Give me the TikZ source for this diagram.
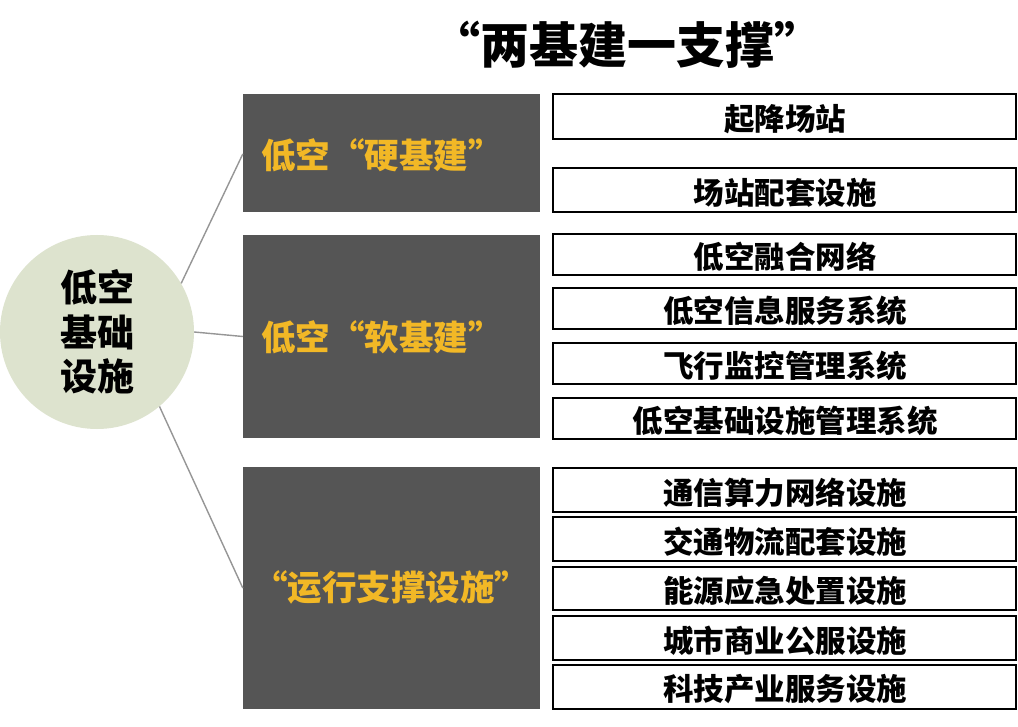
\documentclass[tikz,border=0pt]{standalone}
\usepackage{fontspec}
\setmainfont{Noto Sans CJK SC}
\begin{document}
\begin{tikzpicture}[x=1pt,y=-1pt,
  itembox/.style={draw=black,line width=1.2pt,fill=white},
  yel/.style={text=ytext,font=\bfseries\fontsize{34.5}{38}\selectfont},
  itemtxt/.style={font=\bfseries\fontsize{30.5}{33}\selectfont,text=black},
  conn/.style={draw=linegray,line width=1.4pt}]
\definecolor{boxgray}{RGB}{85,85,85}
\definecolor{ytext}{RGB}{242,184,38}
\definecolor{sage}{RGB}{221,227,206}
\definecolor{linegray}{RGB}{150,150,150}
\useasboundingbox (0,0) rectangle (1018,727);
\fill[white] (0,0) rectangle (1018,727);
% title
\node[font=\bfseries\fontsize{49}{52}\selectfont] (title) at (627,45) {“两基建一支撑”};
% circle
\node[circle,fill=sage,minimum size=194pt,inner sep=0pt,
      font=\bfseries\fontsize{37}{44.5}\selectfont,align=center] (root) at (97,332) {低空\\基础\\设施};
% dark boxes
\fill[boxgray] (243,94) rectangle (540,212);
\node[inner sep=0pt,minimum width=297pt,minimum height=118pt] (g1) at (391.5,153) {};
\node[yel] at (382,155) {低空“硬基建”};
\fill[boxgray] (243,235) rectangle (540,438);
\node[inner sep=0pt,minimum width=297pt,minimum height=203pt] (g2) at (391.5,336.5) {};
\node[yel] at (382,337) {低空“软基建”};
\fill[boxgray] (243,467) rectangle (540,709);
\node[inner sep=0pt,minimum width=297pt,minimum height=242pt] (g3) at (391.5,588) {};
\node[yel] at (391,587) {“运行支撑设施”};
% connectors
\draw[conn] (root.30) -- (g1.west|-0,154);
\draw[conn] (root.east) -- (g2.west);
\draw[conn] (root.-50) -- (g3.west);
% item boxes
\foreach \name/\ya/\yb/\txt in {
  a1/94/139/起降场站,
  a2/168/212/场站配套设施,
  b1/234/275/低空融合网络,
  b2/288/329/低空信息服务系统,
  b3/343/384/飞行监控管理系统,
  b4/398/439/低空基础设施管理系统,
  c1/468/512/通信算力网络设施,
  c2/517/561/交通物流配套设施,
  c3/567/610/能源应急处置设施,
  c4/616/660/城市商业公服设施,
  c5/665/709/科技产业服务设施}{
  \draw[itembox] (553,\ya) rectangle (1016,\yb);
  \node[itemtxt] (\name) at (785,{(\ya+\yb)/2+2.5}) {\txt};
}
\end{tikzpicture}
\end{document}
